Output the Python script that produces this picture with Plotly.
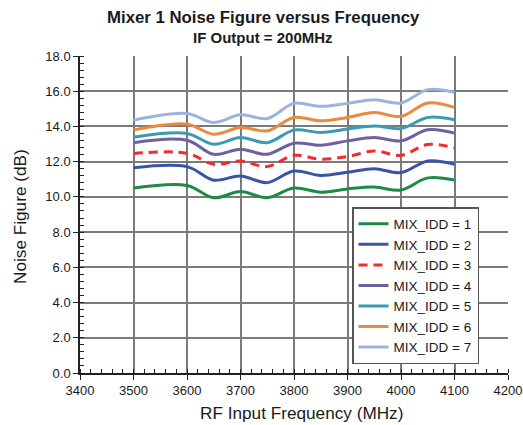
import plotly.graph_objects as go

freq = [3500, 3600, 3650, 3700, 3750, 3800, 3850, 3900, 3950, 4000, 4050, 4100]
nf_idd1 = [10.50, 10.65, 9.95, 10.30, 9.95, 10.50, 10.27, 10.45, 10.56, 10.39, 11.08, 10.96]
nf_idd2 = [11.66, 11.72, 10.95, 11.19, 10.81, 11.47, 11.22, 11.40, 11.60, 11.38, 12.04, 11.85]
nf_idd3 = [12.46, 12.48, 11.85, 12.04, 11.72, 12.36, 12.14, 12.29, 12.61, 12.36, 12.97, 12.78]
nf_idd4 = [13.08, 13.22, 12.42, 12.71, 12.42, 13.05, 12.93, 13.18, 13.37, 13.18, 13.81, 13.62]
nf_idd5 = [13.39, 13.60, 12.99, 13.37, 13.08, 13.79, 13.66, 13.85, 14.03, 13.88, 14.51, 14.38]
nf_idd6 = [13.79, 14.13, 13.56, 13.94, 13.75, 14.51, 14.32, 14.51, 14.79, 14.57, 15.33, 15.08]
nf_idd7 = [14.36, 14.74, 14.22, 14.66, 14.45, 15.31, 15.14, 15.31, 15.52, 15.33, 16.09, 15.94]

names = ["MIX_IDD = 1", "MIX_IDD = 2", "MIX_IDD = 3", "MIX_IDD = 4",
         "MIX_IDD = 5", "MIX_IDD = 6", "MIX_IDD = 7"]
series = [nf_idd1, nf_idd2, nf_idd3, nf_idd4, nf_idd5, nf_idd6, nf_idd7]
colors = ["#1f8a45", "#3a55a8", "#f42a2e", "#70609f", "#3b9bb2", "#e98a3c", "#9cb3de"]
dashes = ["solid", "solid", "9px,6px", "solid", "solid", "solid", "solid"]

x_ticks = list(range(3400, 4201, 100))
y_ticks = [i * 2 for i in range(10)]

W, H = 523, 425
ML, MR, MT, MB = 80, 15, 56, 52
plot_w = W - ML - MR
plot_h = H - MT - MB

def px_x(px):
    return (px - ML) / plot_w

def px_y(py):
    return (H - MB - py) / plot_h

fig = go.Figure()
for name, vals, col, dsh in zip(names, series, colors, dashes):
    fig.add_trace(go.Scatter(
        x=freq, y=vals, name=name, mode="lines",
        line=dict(color=col, width=3, dash=dsh, shape="spline", smoothing=1.0),
    ))

font_family = "Liberation Sans, Arial, sans-serif"
txt = "#1a1a1a"

fig.update_layout(
    width=W, height=H,
    margin=dict(l=ML, r=MR, t=MT, b=MB, autoexpand=False),
    paper_bgcolor="white", plot_bgcolor="white",
    font=dict(family=font_family, color=txt, size=13),
    showlegend=True,
    legend=dict(
        x=px_x(352), y=px_y(207), xanchor="left", yanchor="top",
        bgcolor="white", bordercolor="#555555", borderwidth=1.5,
        font=dict(size=13.5, family=font_family, color=txt),
        itemwidth=30, tracegroupgap=0,
    ),
    annotations=[
        dict(text="<b>Mixer 1 Noise Figure versus Frequency</b>", x=px_x(263), y=px_y(17.5),
             xref="paper", yref="paper", showarrow=False, yanchor="middle",
             font=dict(size=16.8, family=font_family, color=txt)),
        dict(text="<b>IF Output = 200MHz</b>", x=px_x(263), y=px_y(38),
             xref="paper", yref="paper", showarrow=False, yanchor="middle",
             font=dict(size=15, family=font_family, color=txt)),
        dict(text="RF Input Frequency (MHz)", x=px_x(301), y=px_y(413),
             xref="paper", yref="paper", showarrow=False, yanchor="middle",
             font=dict(size=17.2, family=font_family, color=txt)),
        dict(text="Noise Figure (dB)", x=px_x(20), y=px_y(217), textangle=-90,
             xref="paper", yref="paper", showarrow=False, xanchor="center", yanchor="middle",
             font=dict(size=17.2, family=font_family, color=txt)),
    ],
)

fig.update_xaxes(
    range=[3400, 4200], tickvals=x_ticks, ticktext=[str(v) for v in x_ticks],
    automargin=False,
    showgrid=True, gridcolor="#7a7a7a", gridwidth=1.5,
    showline=True, linecolor="#222222", linewidth=1.5,
    ticks="outside", ticklen=5, tickcolor="#222222", tickwidth=1.2,
    minor=dict(dtick=20, ticks="inside", ticklen=4, tickcolor="#222222", tickwidth=1, showgrid=False),
    zeroline=False,
    tickfont=dict(size=13),
)
fig.update_yaxes(
    range=[0, 18], tickvals=y_ticks, ticktext=[f"{v:.1f}" for v in y_ticks],
    automargin=False,
    showgrid=True, gridcolor="#7a7a7a", gridwidth=1.5,
    showline=True, linecolor="#222222", linewidth=1.5,
    ticks="outside", ticklen=5, tickcolor="#222222", tickwidth=1.2,
    minor=dict(dtick=0.4, ticks="inside", ticklen=4, tickcolor="#222222", tickwidth=1, showgrid=False),
    zeroline=False,
    tickfont=dict(size=13),
)

# Remove the browser's default 8px body margin so the 523x425 figure fills the window.
fig.write_html(
    "out.html",
    config={"displayModeBar": False},
    post_script="document.body.style.margin='0';document.body.style.overflow='hidden';",
)
